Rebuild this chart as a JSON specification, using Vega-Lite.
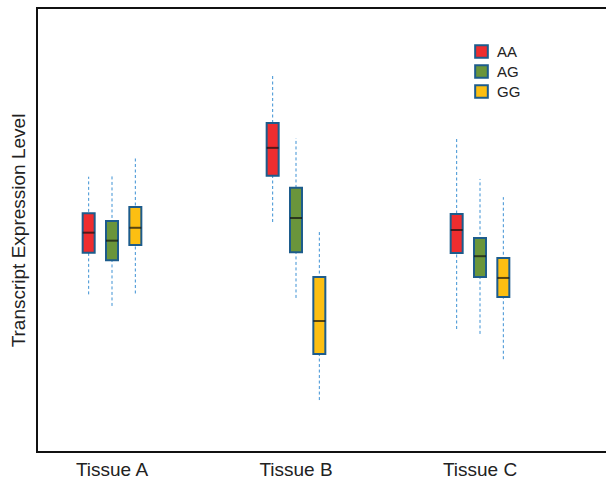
{
  "$schema": "https://vega.github.io/schema/vega-lite/v6.json",
  "autosize": "none",
  "padding": {"left": 37, "top": 8, "right": 0, "bottom": 27},
  "width": 575,
  "height": 444,
  "background": "white",
  "config": {
    "font": "Liberation Sans",
    "view": {"stroke": "#111111", "strokeWidth": 2},
    "axis": {"grid": false, "domain": false, "ticks": false}
  },
  "data": {
    "values": [
      {"tissue": "Tissue A", "genotype": "AA", "lower": 3.55, "q1": 4.49, "median": 4.94, "q3": 5.38, "upper": 6.20},
      {"tissue": "Tissue A", "genotype": "AG", "lower": 3.29, "q1": 4.32, "median": 4.76, "q3": 5.20, "upper": 6.24},
      {"tissue": "Tissue A", "genotype": "GG", "lower": 3.57, "q1": 4.66, "median": 5.05, "q3": 5.52, "upper": 6.65},
      {"tissue": "Tissue B", "genotype": "AA", "lower": 5.18, "q1": 6.22, "median": 6.85, "q3": 7.41, "upper": 8.47},
      {"tissue": "Tissue B", "genotype": "AG", "lower": 3.47, "q1": 4.50, "median": 5.27, "q3": 5.95, "upper": 7.07},
      {"tissue": "Tissue B", "genotype": "GG", "lower": 1.17, "q1": 2.21, "median": 2.95, "q3": 3.94, "upper": 5.00},
      {"tissue": "Tissue C", "genotype": "AA", "lower": 2.77, "q1": 4.48, "median": 5.00, "q3": 5.36, "upper": 7.09},
      {"tissue": "Tissue C", "genotype": "AG", "lower": 2.66, "q1": 3.94, "median": 4.41, "q3": 4.82, "upper": 6.15},
      {"tissue": "Tissue C", "genotype": "GG", "lower": 2.09, "q1": 3.49, "median": 3.92, "q3": 4.37, "upper": 5.74}
    ]
  },
  "encoding": {
    "x": {
      "field": "tissue", "type": "nominal",
      "scale": {"range": [-17, 535], "paddingInner": 0, "paddingOuter": 0},
      "axis": {"title": null, "labelFontSize": 19, "labelColor": "#222222", "labelPadding": 8, "tickSize": 0, "labelAngle": 0}
    },
    "xOffset": {
      "field": "genotype", "type": "nominal",
      "scale": {"range": [57, 127], "paddingInner": 0, "paddingOuter": 0}
    }
  },
  "layer": [
    {
      "mark": {"type": "rule", "stroke": "#3d91d4", "strokeWidth": 1, "strokeDash": [3, 2.5]},
      "encoding": {
        "y": {"field": "lower", "type": "quantitative", "scale": {"domain": [0, 10], "nice": false, "zero": false},
              "axis": {"title": "Transcript Expression Level", "titleFontSize": 19, "titleFontWeight": "normal", "titleColor": "#222222", "labels": false, "tickSize": 0, "titlePadding": 9}},
        "y2": {"field": "upper"}
      }
    },
    {
      "mark": {"type": "bar", "size": 12, "stroke": "#1d5c8c", "strokeWidth": 2},
      "encoding": {
        "y": {"field": "q1", "type": "quantitative"},
        "y2": {"field": "q3"},
        "fill": {
          "field": "genotype", "type": "nominal",
          "scale": {"domain": ["AA", "AG", "GG"], "range": ["#ee2d2f", "#6a953b", "#fcbf12"]},
          "legend": {
            "title": null, "orient": "none", "legendX": 437, "legendY": 36, "padding": 0,
            "symbolType": "square", "symbolSize": 160, "symbolStrokeColor": "#1d5c8c", "symbolStrokeWidth": 2,
            "labelFontSize": 15, "labelColor": "#222222", "labelOffset": 8, "rowPadding": -1
          }
        }
      }
    },
    {
      "mark": {"type": "tick", "color": "#111111", "size": 12, "thickness": 2},
      "encoding": {
        "y": {"field": "median", "type": "quantitative"}
      }
    }
  ]
}
